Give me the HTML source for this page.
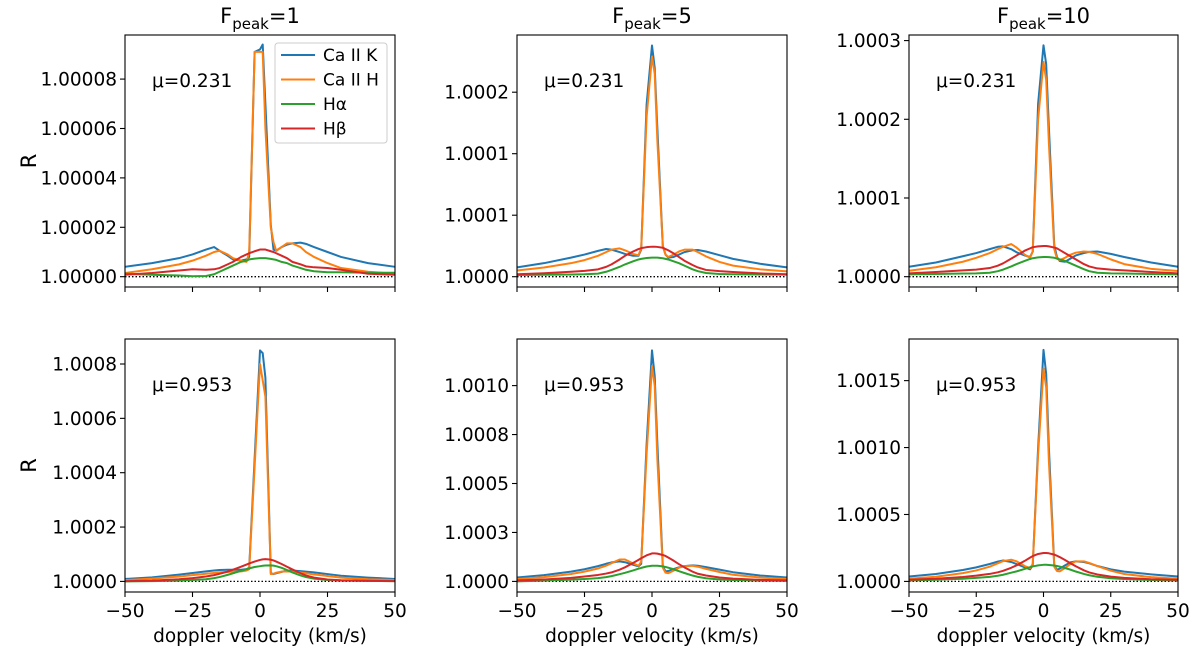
<!DOCTYPE html>
<html><head><meta charset="utf-8">
<style>
html,body{margin:0;padding:0;background:#fff;}
svg{display:block;font-family:"DejaVu Sans","Liberation Sans",sans-serif;}
</style></head>
<body>
<svg id="fig" width="1200" height="652" viewBox="0 0 1200 652" xmlns="http://www.w3.org/2000/svg"></svg>
<script>
// velocity grid (km/s)
const velocity = [-50,-40,-30,-25,-20,-17,-15,-12,-10,-7,-5,-4,-2,0,1,2,4,5,6,8,10,12,15,17,20,25,30,40,50];
// values are R-1 in units of 1e-5
const p1CaK = [.4,.55,.75,.9,1.1,1.2,1.05,.85,.7,.65,.7,.8,9.1,9.2,9.4,7,2.1,1.1,1.05,1.2,1.3,1.35,1.38,1.33,1.2,1.0,.8,.55,.4];
const p1CaH = [.15,.3,.5,.65,.85,1.0,1.05,.9,.75,.65,.6,1.0,9.1,9.1,9.1,6,2.0,1.4,1.05,1.2,1.35,1.35,1.2,1.0,.8,.55,.35,.2,.12];
const p1Ha = [.12,.08,.05,.02,.03,.1,.2,.35,.45,.6,.65,.7,.73,.75,.75,.75,.72,.7,.68,.6,.55,.45,.35,.28,.22,.18,.18,.16,.16];
const p1Hb = [.08,.15,.25,.3,.28,.3,.35,.5,.6,.8,.9,.95,1.03,1.1,1.1,1.1,1.03,1.0,.95,.85,.75,.6,.5,.42,.38,.35,.28,.12,.08];

const p2CaK = [.76,1.1,1.55,1.8,2.1,2.25,2.2,2.0,1.85,1.7,1.7,2.2,14,18.8,17,12,2.5,1.8,1.55,1.6,1.8,2.0,2.15,2.17,2.05,1.75,1.45,1.05,.76];
const p2CaH = [.5,.75,1.1,1.35,1.7,2.0,2.2,2.3,2.15,1.85,1.75,2.3,13,17.9,16.5,11,2.5,1.8,1.6,1.8,2.05,2.2,2.2,2.0,1.65,1.2,.9,.6,.43];
const p2Ha = [.14,.16,.18,.2,.25,.4,.55,.8,1.0,1.25,1.4,1.45,1.52,1.55,1.55,1.55,1.5,1.45,1.4,1.25,1.1,.9,.6,.45,.3,.22,.2,.18,.17];
const p2Hb = [.2,.28,.4,.47,.6,.8,1.0,1.4,1.7,2.05,2.25,2.32,2.4,2.44,2.44,2.42,2.35,2.25,2.15,1.9,1.6,1.3,.95,.75,.55,.45,.38,.27,.2];

const p3CaK = [1.27,1.8,2.6,3.0,3.5,3.8,3.85,3.5,3.1,2.7,2.5,3.2,22,29.4,27,19,4,2.5,2.0,1.9,2.3,2.7,3.0,3.15,3.2,2.9,2.5,1.8,1.27];
const p3CaH = [.76,1.2,1.9,2.4,3.0,3.5,3.8,4.15,3.7,2.8,2.4,3.2,20,27.3,25,17,3.5,2.3,2.1,2.4,2.8,3.05,3.2,3.15,2.9,2.2,1.6,1.0,.72];
const p3Ha = [.3,.35,.4,.42,.5,.7,.9,1.3,1.6,2.0,2.25,2.35,2.45,2.5,2.5,2.48,2.4,2.3,2.2,2.0,1.7,1.4,.95,.7,.5,.42,.4,.35,.3];
const p3Hb = [.42,.6,.8,.9,1.1,1.4,1.7,2.3,2.7,3.3,3.6,3.75,3.85,3.9,3.9,3.85,3.7,3.6,3.4,3.0,2.6,2.2,1.6,1.3,1.05,.9,.8,.6,.42];

const p4CaK = [.9,1.5,2.5,3.1,3.7,4.0,4.2,4.3,4.3,4.3,4.5,5,45,85,84,75,3,2.7,3.0,3.5,4.0,4.0,3.8,3.6,3.3,2.7,2.1,1.4,.9];
const p4CaH = [.5,1.0,1.8,2.3,2.8,3.1,3.3,3.5,3.6,3.7,4,4.5,42,80,74,68,2.7,2.8,3.2,3.6,3.7,3.6,3.3,3.0,2.6,2.0,1.4,.8,.5];
const p4Ha = [0,.1,.3,.5,.8,1.2,1.6,2.4,3.0,3.9,4.5,4.8,5.3,5.6,5.75,5.85,5.9,5.8,5.6,5.0,4.2,3.3,2.2,1.6,1.0,.5,.3,.2,.1];
const p4Hb = [.1,.3,.8,1.2,1.8,2.3,2.8,3.6,4.3,5.4,6.2,6.6,7.3,7.9,8.1,8.2,8.0,7.7,7.3,6.4,5.4,4.4,3.0,2.2,1.4,.7,.4,.2,.1];

const p5CaK = [2,3.2,5,6.2,7.8,9,9.7,10.2,9.8,8.5,7.7,9,70,118,105,70,8,5.1,5.3,6.3,7.2,7.8,8.2,8.0,7.3,6.0,4.7,3.0,2.0];
const p5CaH = [1.2,2.2,3.8,5,6.6,8,9.3,11.2,11.2,9.2,8,10,65,110,100,62,7,4.5,4.2,5.5,7,7.8,8.0,7.5,6.4,4.8,3.4,2.0,1.2];
const p5Ha = [0,.4,.9,1.2,1.7,2.2,2.7,3.7,4.4,5.6,6.5,6.9,7.6,8.0,8.0,8.0,7.7,7.4,7.0,6.2,5.2,4.3,3.0,2.3,1.6,1.0,.7,.4,.3];
const p5Hb = [.5,1.0,1.8,2.5,3.3,4.0,4.6,6.0,7.2,9.4,11,11.8,13.3,14.3,14.3,14.2,13.5,13,12.2,10.6,8.8,7.2,5.0,3.9,3.0,2.0,1.4,.8,.5];

const p6CaK = [3.7,5.5,8.5,10.5,13,14.8,15.6,14.5,13,10.5,9,12,100,173,155,100,12,8.7,9.5,12,14.2,15,14.5,13.5,11.5,9,7.3,5.3,3.7];
const p6CaH = [2,3.5,6.2,8.2,11,13.5,15.2,16.2,15,11.5,10,13,95,159,145,90,11,7.8,7.5,10,13,15,15,13.8,11.5,8,5.5,3.2,2];
const p6Ha = [.7,1.2,2.0,2.6,3.4,4.2,5.0,6.5,7.5,9.3,10.6,11.2,12.0,12.4,12.4,12.3,11.9,11.5,11.1,10,8.8,7.4,5.6,4.6,3.5,2.4,1.8,1.1,.7];
const p6Hb = [1.2,2,3.3,4.3,5.6,6.8,7.9,10.2,12,15.3,17.8,18.9,20.5,21.2,21.2,21,20,19.2,18.2,16,13.6,11.3,8.3,6.7,5.2,3.6,2.6,1.6,1.2];

const xTicks = [-50,-25,0,25,50];
const p1Ticks = [0,2,4,6,8];
const p1TickLabels = ["1.00000","1.00002","1.00004","1.00006","1.00008"];
const p2Ticks = [0,5,10,15];
const p2TickLabels = ["1.0000","1.0001","1.0001","1.0002"];
const p3Ticks = [0,10,20,30];
const p3TickLabels = ["1.0000","1.0001","1.0002","1.0003"];
const p4Ticks = [0,20,40,60,80];
const p4TickLabels = ["1.0000","1.0002","1.0004","1.0006","1.0008"];
const p5Ticks = [0,25,50,75,100];
const p5TickLabels = ["1.0000","1.0003","1.0005","1.0008","1.0010"];
const p6Ticks = [0,50,100,150];
const p6TickLabels = ["1.0000","1.0005","1.0010","1.0015"];
const titles = ["1","5","10"];
const muLabels = ["μ=0.231","μ=0.953"];

const NS = "http://www.w3.org/2000/svg";
const svg = document.getElementById('fig');
function mk(tag, attrs, parent){
  const e = document.createElementNS(NS, tag);
  for (const k in attrs) e.setAttribute(k, attrs[k]);
  (parent||svg).appendChild(e);
  return e;
}
const colors = ["#1f77b4","#ff7f0e","#2ca02c","#d62728"];
const cols = [[125,395],[517,787],[909,1178]];
const rows = [[35,287],[339,592]];
const yRanges = [[-0.417,9.785],[-0.837,19.65],[-1.31,30.71],[-3.9,89.2],[-5.41,123.8],[-7.91,181.1]];
const panels = [
  {s:[p1CaK,p1CaH,p1Ha,p1Hb],t:p1Ticks,l:p1TickLabels},
  {s:[p2CaK,p2CaH,p2Ha,p2Hb],t:p2Ticks,l:p2TickLabels},
  {s:[p3CaK,p3CaH,p3Ha,p3Hb],t:p3Ticks,l:p3TickLabels},
  {s:[p4CaK,p4CaH,p4Ha,p4Hb],t:p4Ticks,l:p4TickLabels},
  {s:[p5CaK,p5CaH,p5Ha,p5Hb],t:p5Ticks,l:p5TickLabels},
  {s:[p6CaK,p6CaH,p6Ha,p6Hb],t:p6Ticks,l:p6TickLabels}
];
const seriesNames = ["ca-ii-k","ca-ii-h","h-alpha","h-beta"];

panels.forEach((p, i) => {
  const r = Math.floor(i/3), c = i%3;
  const [x0,x1] = cols[c], [y0,y1] = rows[r];
  const [ymin,ymax] = yRanges[i];
  const xs = v => x0 + (v+50)/100*(x1-x0);
  const ys = v => y1 - (v-ymin)/(ymax-ymin)*(y1-y0);
  const g = mk('g', {});
  
  
  const zl = mk('line', {x1:x0,x2:x1,y1:ys(0),y2:ys(0),stroke:'#000','stroke-width':1.3,'stroke-dasharray':'1.5,2'}, g);
  
  
  p.s.forEach((arr, k) => {
    const d = arr.map((v,j) => (j?'L':'M') + xs(velocity[j]).toFixed(2) + ' ' + ys(v).toFixed(2)).join(' ');
    const path = mk('path', {d:d, fill:'none', stroke:colors[k], 'stroke-width':2, 'stroke-linejoin':'round'}, g);
    
    
  });
  const fr = mk('rect', {x:x0,y:y0,width:x1-x0,height:y1-y0,fill:'none',stroke:'#000','stroke-width':1.1}, g);
  
  
  p.t.forEach((t, k) => {
    const y = ys(t);
    mk('line', {x1:x0-5,x2:x0,y1:y,y2:y,stroke:'#000','stroke-width':1.1}, g);
    const tx = mk('text', {x:x0-8,y:y+6.5,'text-anchor':'end','font-size':18.5,fill:'#000'}, g);
    tx.textContent = p.l[k];
    
    
  });
  xTicks.forEach(t => {
    const x = xs(t);
    mk('line', {x1:x,x2:x,y1:y1,y2:y1+5,stroke:'#000','stroke-width':1.1}, g);
    if (r === 1) {
      const tx = mk('text', {x:x,y:y1+25,'text-anchor':'middle','font-size':18.5,fill:'#000'}, g);
      tx.textContent = (t<0?'\u2212':'') + Math.abs(t);
      
      
    }
  });
  const mu = mk('text', {x:x0+27,y:y0+52,'font-size':18.5,fill:'#000'}, g);
  mu.textContent = muLabels[r];
  
  
  if (r === 0) {
    const tt = mk('text', {x:(x0+x1)/2,y:y0-12,'text-anchor':'middle','font-size':21,fill:'#000'}, g);
    tt.innerHTML = 'F<tspan font-size="15" dy="6">peak</tspan><tspan dy="-6">=' + titles[c] + '</tspan>';
    
    
  } else {
    const xl = mk('text', {x:(x0+x1)/2,y:y1+50,'text-anchor':'middle','font-size':18.5,fill:'#000'}, g);
    xl.textContent = 'doppler velocity (km/s)';
    
    
  }
  if (c === 0) {
    const yc = (y0+y1)/2;
    const yl = mk('text', {x:0,y:0,'text-anchor':'middle','font-size':21,fill:'#000',transform:'translate(36,'+yc+') rotate(-90)'}, g);
    yl.textContent = 'R';
    
    
  }
});

const lg = mk('g', {});


mk('rect', {x:275,y:43,width:112,height:100,rx:3,fill:'#fff','fill-opacity':0.85,stroke:'#ccc','stroke-width':1}, lg);
const legendLabels = ["Ca II K","Ca II H","Hα","Hβ"];
legendLabels.forEach((lab, k) => {
  const y = 55 + k*24.5;
  const e = mk('g', {}, lg);
  
  
  mk('line', {x1:281,x2:315,y1:y,y2:y,stroke:colors[k],'stroke-width':2}, e);
  const t = mk('text', {x:323,y:y+6,'font-size':17,fill:'#000'}, e);
  t.textContent = lab;
});
</script>
</body></html>
